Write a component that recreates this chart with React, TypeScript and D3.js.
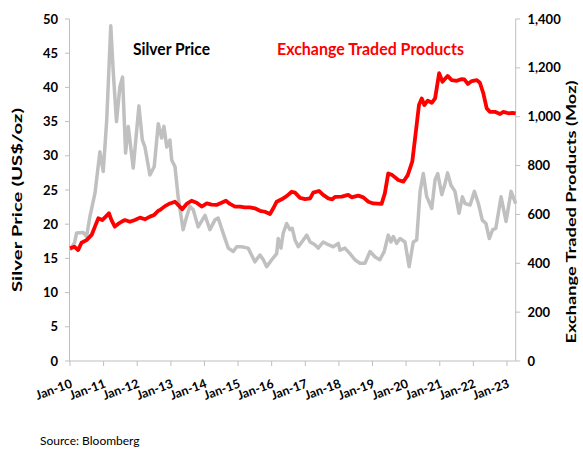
import React from 'react';
import * as d3 from 'd3';

// Silver price (US$/oz)
const silverDates = [
  '2010-01-01','2010-02-20','2010-03-13','2010-05-24','2010-06-30','2010-08-05','2010-09-29','2010-11-22','2010-12-28',
  '2011-02-04','2011-03-20','2011-04-15','2011-05-21','2011-06-27','2011-07-26','2011-08-28','2011-09-26',
  '2011-11-19','2012-01-20','2012-02-26','2012-03-25','2012-05-18','2012-07-04','2012-08-17','2012-09-23',
  '2012-10-18','2012-11-17','2012-12-22','2013-01-10','2013-02-15','2013-03-21','2013-05-14','2013-06-21',
  '2013-07-27','2013-09-01','2013-10-25','2014-01-07','2014-03-01','2014-04-24','2014-05-30','2014-07-23',
  '2014-09-17','2014-11-10','2014-12-17','2015-02-10','2015-04-21','2015-07-03','2015-08-27','2015-10-02',
  '2015-11-08','2016-01-02','2016-02-25','2016-03-12','2016-04-11','2016-05-06','2016-06-12','2016-07-18',
  '2016-08-12','2016-09-11','2016-10-17','2016-12-10','2017-01-17','2017-02-22','2017-04-15','2017-05-21',
  '2017-07-14','2017-09-08','2017-11-01','2017-12-25','2018-01-13','2018-03-07','2018-05-01','2018-06-24',
  '2018-08-18','2018-10-11','2018-12-05','2019-01-29','2019-03-22','2019-05-08','2019-06-21','2019-07-20',
  '2019-08-15','2019-09-21','2019-10-27','2019-12-20','2020-02-03','2020-03-19','2020-04-25','2020-06-01',
  '2020-07-06','2020-08-12','2020-08-30','2020-10-06','2020-11-11','2020-12-10','2021-01-23','2021-02-28',
  '2021-03-27','2021-05-03','2021-06-15','2021-07-29','2021-09-04','2021-10-03','2021-11-27','2022-01-12',
  '2022-02-25','2022-04-08','2022-05-18','2022-06-23','2022-07-30','2022-09-02','2022-10-29','2022-12-22',
  '2023-02-15','2023-04-06'
];
const silverPrices = [
  16.2,17.3,18.7,18.8,18.2,21.1,24.5,30.6,27.7,
  35.2,49.0,42.5,35.0,40.1,41.5,30.4,34.3,
  28.2,37.3,32.3,31.3,27.2,28.4,34.7,32.6,
  34.3,31.3,32.3,29.4,28.4,24.0,19.2,21.1,
  22.6,22.1,19.6,21.3,19.2,20.6,20.9,18.7,
  16.5,16.0,16.7,16.7,16.5,14.5,15.5,14.8,
  13.8,14.8,15.7,17.9,16.5,18.7,20.1,19.2,
  19.4,17.7,16.7,17.7,18.4,17.4,17.0,16.5,
  17.4,17.0,16.7,17.2,16.2,16.5,15.7,14.8,
  14.3,14.3,16.0,15.2,14.8,16.0,18.4,17.4,
  18.2,17.2,17.9,17.4,13.8,17.4,17.7,24.8,
  27.4,24.0,23.5,22.3,26.5,27.4,24.3,26.0,
  27.5,25.7,24.8,21.6,24.0,23.0,22.8,24.8,
  23.0,20.6,20.1,17.9,19.2,19.4,24.0,20.4,
  24.8,23.0
];

// Exchange Traded Products holdings (Moz)
const etpDates = [
  '2010-01-01','2010-02-17','2010-03-30','2010-05-06','2010-06-30','2010-08-24','2010-09-29','2010-11-04',
  '2010-12-17','2011-01-24','2011-02-28','2011-03-28','2011-05-03','2011-06-08','2011-07-15','2011-08-20',
  '2011-10-14','2011-12-07','2012-02-01','2012-03-25','2012-05-18','2012-07-04','2012-08-17','2012-09-05',
  '2012-10-29','2012-12-22','2013-02-15','2013-03-21','2013-05-04','2013-06-21','2013-08-14','2013-10-08',
  '2013-12-02','2014-01-26','2014-03-19','2014-05-12','2014-07-06','2014-08-22','2014-10-05','2014-11-29',
  '2015-01-22','2015-03-16','2015-05-09','2015-07-03','2015-08-27','2015-10-20','2015-12-14','2016-01-19',
  '2016-02-25','2016-04-19','2016-06-12','2016-08-06','2016-09-11','2016-11-05','2016-12-29','2017-02-22',
  '2017-03-28','2017-05-29','2017-07-14','2017-09-08','2017-10-21','2017-11-20','2018-02-01','2018-04-12',
  '2018-05-19','2018-07-30','2018-09-23','2018-11-17','2019-01-10','2019-04-10','2019-05-15','2019-06-21',
  '2019-08-04','2019-10-08','2019-12-02','2020-01-19','2020-03-08','2020-04-14','2020-05-20','2020-06-19',
  '2020-07-17','2020-08-23','2020-10-06','2020-11-11','2020-12-25','2021-01-30','2021-03-27','2021-05-10',
  '2021-07-04','2021-08-28','2021-09-25','2021-11-02','2021-12-15','2022-02-08','2022-03-13','2022-04-19',
  '2022-05-26','2022-07-01','2022-08-24','2022-10-18','2022-11-23','2023-01-17','2023-03-01','2023-04-06'
];
const etpHoldings = [
  461,468,454,484,495,516,550,584,
  577,591,605,577,550,561,570,577,
  570,577,587,580,591,598,615,618,
  634,645,652,639,621,643,656,648,
  632,645,640,639,648,656,643,632,
  632,629,629,625,615,611,602,625,
  652,662,675,693,689,668,663,666,
  689,696,680,666,662,672,673,680,
  670,677,670,652,645,643,686,768,
  761,741,734,761,816,932,1048,1075,
  1048,1066,1057,1075,1178,1143,1167,1150,
  1147,1154,1153,1134,1146,1150,1139,1096,
  1034,1020,1020,1011,1020,1014,1016,1014
];

const xTickYears = [2010,2011,2012,2013,2014,2015,2016,2017,2018,2019,2020,2021,2022,2023];
const leftTicks = [0,5,10,15,20,25,30,35,40,45,50];
const rightTicks = [0,200,400,600,800,1000,1200,1400];

const FONT = "Lato, 'Open Sans', sans-serif";

export default function App() {
  const W = 583, H = 458;
  const parse = d3.timeParse('%Y-%m-%d');
  const x = d3.scaleTime()
    .domain([parse('2010-01-01') as Date, parse('2023-04-06') as Date])
    .range([70, 515.7]);
  const yL = d3.scaleLinear().domain([0, 50]).range([361, 19]);
  const yR = d3.scaleLinear().domain([0, 1400]).range([361, 19]);

  const silverData = silverDates.map((d, i) => ({ d: parse(d) as Date, v: silverPrices[i] }));
  const etpData = etpDates.map((d, i) => ({ d: parse(d) as Date, v: etpHoldings[i] }));

  const silverLine = d3.line<{ d: Date; v: number }>().x(p => x(p.d)).y(p => yL(p.v));
  const etpLine = d3.line<{ d: Date; v: number }>().x(p => x(p.d)).y(p => yR(p.v));

  const axisColor = '#bfbfbf';
  const fmtR = d3.format(',');
  const xAxisLeft = 69.5, xAxisRight = 515.7, yBase = 361;

  return (
    <svg width={W} height={H} style={{ position: 'absolute', left: 0, top: 0, background: '#fff' }}
      fontFamily={FONT}>
      <rect x={0} y={0} width={W} height={H} fill="#fff" />
      {/* left axis */}
      <line x1={xAxisLeft} x2={xAxisLeft} y1={yL(50)} y2={yBase} stroke={axisColor} strokeWidth={1} />
      {leftTicks.map(t => (
        <g key={'l' + t}>
          <line x1={xAxisLeft - 4.5} x2={xAxisLeft} y1={yL(t)} y2={yL(t)} stroke={axisColor} />
          <text x={58} y={yL(t)} dy="0.35em" textAnchor="end" fontSize={13} fontWeight={700} fill="#000">{t}</text>
        </g>
      ))}
      {/* right axis */}
      <line x1={xAxisRight} x2={xAxisRight} y1={yR(1400)} y2={yBase} stroke={axisColor} strokeWidth={1} />
      {rightTicks.map(t => (
        <g key={'r' + t}>
          <line x1={xAxisRight} x2={xAxisRight + 4.5} y1={yR(t)} y2={yR(t)} stroke={axisColor} />
          <text x={527.5} y={yR(t)} dy="0.35em" textAnchor="start" fontSize={13} fontWeight={700} fill="#000">{fmtR(t)}</text>
        </g>
      ))}
      {/* bottom axis */}
      <line x1={xAxisLeft} x2={xAxisRight} y1={yBase} y2={yBase} stroke={axisColor} />
      {xTickYears.map(yr => {
        const tx = x(new Date(yr, 0, 1));
        return (
          <g key={'x' + yr}>
            <line x1={tx} x2={tx} y1={yBase} y2={yBase + 5} stroke={axisColor} />
            <text transform={`translate(${tx + 3},${yBase + 26}) rotate(-20)`} textAnchor="end"
              fontSize={12.5} fontWeight={700} fill="#000">{d3.timeFormat('%b-%y')(new Date(yr, 0, 1))}</text>
          </g>
        );
      })}
      {/* series */}
      <path d={silverLine(silverData) || ''} fill="none" stroke="#c0c0c0" strokeWidth={3.5} strokeLinejoin="round" />
      <path d={etpLine(etpData) || ''} fill="none" stroke="#ff0000" strokeWidth={3.8} strokeLinejoin="round" />
      {/* titles */}
      <text x={133} y={55} fontSize={17} fontWeight={700} fill="#000" textLength={77} lengthAdjust="spacingAndGlyphs">Silver Price</text>
      <text x={277} y={55} fontSize={17} fontWeight={700} fill="#ff0000" textLength={187} lengthAdjust="spacingAndGlyphs">Exchange Traded Products</text>
      {/* axis titles */}
      <text transform="translate(22,200) rotate(-90)" textAnchor="middle" fontSize={12.5} fontWeight={700} fill="#000"
        textLength={184} lengthAdjust="spacingAndGlyphs">Silver Price (US$/oz)</text>
      <text transform="translate(576,212) rotate(-90)" textAnchor="middle" fontSize={12.5} fontWeight={700} fill="#000"
        textLength={263} lengthAdjust="spacingAndGlyphs">Exchange Traded Products (Moz)</text>
      <text x={40} y={445} fontSize={12} fill="#000">Source: Bloomberg</text>
    </svg>
  );
}
